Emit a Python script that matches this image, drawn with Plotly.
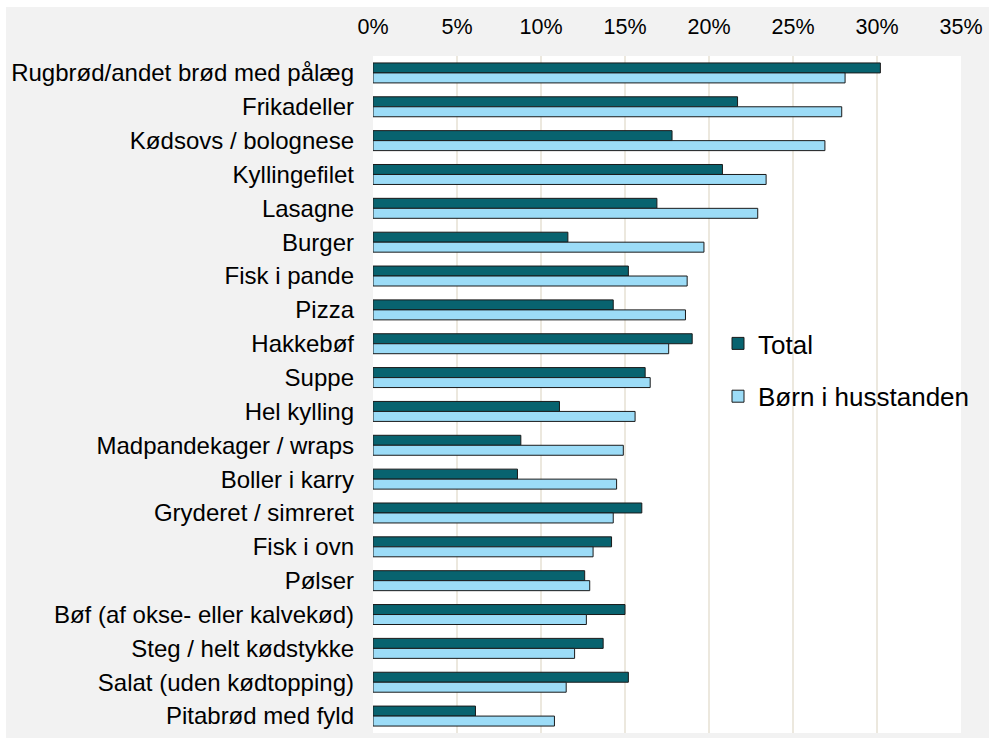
import plotly.graph_objects as go

categories = [
    "Rugbrød/andet brød med pålæg", "Frikadeller", "Kødsovs / bolognese", "Kyllingefilet",
    "Lasagne", "Burger", "Fisk i pande", "Pizza", "Hakkebøf", "Suppe", "Hel kylling",
    "Madpandekager / wraps", "Boller i karry", "Gryderet / simreret", "Fisk i ovn",
    "Pølser", "Bøf (af okse- eller kalvekød)", "Steg / helt kødstykke",
    "Salat (uden kødtopping)", "Pitabrød med fyld",
]
total = [30.2, 21.7, 17.8, 20.8, 16.9, 11.6, 15.2, 14.3, 19.0, 16.2, 11.1,
         8.8, 8.6, 16.0, 14.2, 12.6, 15.0, 13.7, 15.2, 6.1]
born = [28.1, 27.9, 26.9, 23.4, 22.9, 19.7, 18.7, 18.6, 17.6, 16.5, 15.6,
        14.9, 14.5, 14.3, 13.1, 12.9, 12.7, 12.0, 11.5, 10.8]
series_names = ["Total", "Børn i husstanden"]
tick_vals = [0, 0.05, 0.10, 0.15, 0.20, 0.25, 0.30, 0.35]
tick_text = ["0%", "5%", "10%", "15%", "20%", "25%", "30%", "35%"]

FONT = "Liberation Sans, Arial, sans-serif"
W, H = 989, 738
L, R, T, B = 373, 28, 56, 5
pw, ph = W - L - R, H - T - B

fig = go.Figure()
fig.add_trace(go.Bar(
    y=categories, x=[v / 100 for v in total], name=series_names[0], orientation="h",
    marker=dict(color="#08636f", line=dict(color="#1a1a1a", width=1)),
    legendgroup="a",
))
fig.add_trace(go.Bar(
    y=categories, x=[v / 100 for v in born], name=series_names[1], orientation="h",
    marker=dict(color="#9cdcf7", line=dict(color="#1a1a1a", width=1)),
    legendgroup="b",
))

def px_x(p):
    return (p - L) / pw

def px_y(p):
    return (H - B - p) / ph

shapes = [
    dict(type="rect", xref="paper", yref="paper", x0=px_x(0), x1=px_x(W), y0=px_y(7), y1=px_y(0),
         fillcolor="white", line=dict(width=0), layer="below"),
    dict(type="rect", xref="paper", yref="paper", x0=px_x(0), x1=px_x(6), y0=px_y(H), y1=px_y(0),
         fillcolor="white", line=dict(width=0), layer="below"),
]

fig.update_layout(
    width=W, height=H,
    margin=dict(l=L, r=R, t=T, b=B),
    paper_bgcolor="#f2f2f2",
    plot_bgcolor="white",
    barmode="group",
    bargap=0.41,
    bargroupgap=0,
    font=dict(family=FONT, size=21, color="#000000"),
    shapes=shapes,
    legend=dict(
        x=px_x(718), y=px_y(370), xanchor="left", yanchor="middle",
        bgcolor="rgba(0,0,0,0)", font=dict(size=26),
        traceorder="grouped", tracegroupgap=16,
    ),
    xaxis=dict(
        side="top", range=[0, 0.35], tickvals=tick_vals, ticktext=tick_text,
        showgrid=True, gridcolor="#ece8de", gridwidth=2, zeroline=False,
        showline=False, ticks="", ticklabelstandoff=17,
        tickfont=dict(size=21.5),
    ),
    yaxis=dict(
        autorange="reversed", showgrid=False, zeroline=False, showline=False,
        ticks="", ticklabelstandoff=18, tickfont=dict(size=24),
    ),
)

fig.write_html("out.html")
